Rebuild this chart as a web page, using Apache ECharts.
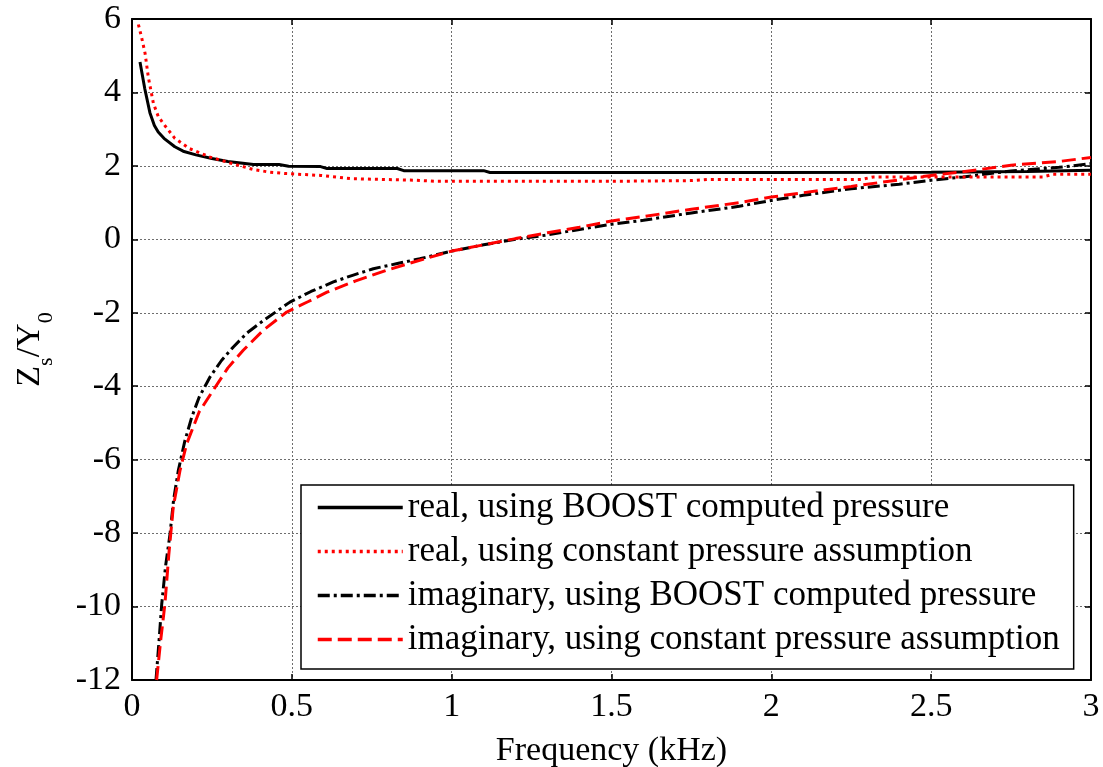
<!DOCTYPE html>
<html><head><meta charset="utf-8">
<script src="https://cdn.jsdelivr.net/npm/echarts@6/dist/echarts.min.js"></script>
<style>html,body{margin:0;padding:0;background:#fff}#c{width:1103px;height:767px}</style>
</head><body><div id="c"></div>
<script>
const xTicks = [0, 0.5, 1, 1.5, 2, 2.5, 3];
const yTicks = [-12, -10, -8, -6, -4, -2, 0, 2, 4, 6];
const seriesNames = [
  'real, using BOOST computed pressure',
  'real, using constant pressure assumption',
  'imaginary, using BOOST computed pressure',
  'imaginary, using constant pressure assumption'
];
const realBoost = [[0.025,4.83],[0.04,4.1],[0.056,3.45],[0.07,3.1],[0.082,2.92],[0.1,2.75],[0.134,2.52],[0.16,2.4],[0.2,2.3],[0.25,2.2],[0.3,2.12],[0.34,2.08],[0.38,2.04],[0.46,2.04],[0.49,1.99],[0.59,1.98],[0.61,1.93],[0.83,1.93],[0.85,1.87],[1.1,1.87],[1.12,1.82],[2.0,1.82],[2.5,1.83],[2.8,1.85],[3.0,1.88]];
const realConst = [[0.02,5.85],[0.03,5.5],[0.041,5.06],[0.051,4.42],[0.067,3.7],[0.082,3.35],[0.098,3.15],[0.134,2.75],[0.18,2.47],[0.244,2.24],[0.307,2.08],[0.38,1.9],[0.43,1.83],[0.484,1.79],[0.59,1.74],[0.69,1.65],[0.89,1.61],[0.95,1.58],[1.5,1.58],[1.75,1.6],[1.8,1.63],[2.28,1.63],[2.32,1.7],[2.85,1.7],[2.88,1.77],[3.0,1.77]];
const imagBoost = [[0.075,-12],[0.084,-11],[0.093,-9.93],[0.105,-8.9],[0.119,-8.02],[0.13,-7.1],[0.145,-6.29],[0.165,-5.5],[0.187,-4.84],[0.21,-4.3],[0.244,-3.75],[0.28,-3.3],[0.317,-2.93],[0.36,-2.55],[0.411,-2.21],[0.494,-1.71],[0.56,-1.42],[0.63,-1.16],[0.69,-0.98],[0.755,-0.8],[0.83,-0.66],[0.9,-0.53],[1.0,-0.32],[1.1,-0.15],[1.2,0.0],[1.3,0.12],[1.4,0.27],[1.5,0.41],[1.6,0.52],[1.75,0.72],[1.9,0.9],[2.0,1.06],[2.1,1.2],[2.25,1.38],[2.4,1.5],[2.5,1.61],[2.6,1.7],[2.75,1.86],[2.9,1.96],[3.0,2.06]];
const imagConst = [[0.077,-12],[0.09,-10.9],[0.103,-9.93],[0.115,-8.6],[0.129,-7.29],[0.15,-6.3],[0.171,-5.57],[0.21,-4.7],[0.254,-4.11],[0.3,-3.5],[0.348,-3.02],[0.41,-2.48],[0.484,-1.98],[0.55,-1.7],[0.61,-1.44],[0.7,-1.13],[0.797,-0.84],[0.9,-0.57],[1.0,-0.32],[1.1,-0.15],[1.2,0.02],[1.3,0.18],[1.4,0.33],[1.5,0.5],[1.6,0.62],[1.75,0.82],[1.9,1.0],[2.0,1.15],[2.1,1.27],[2.25,1.44],[2.4,1.62],[2.5,1.74],[2.6,1.84],[2.75,2.02],[2.9,2.12],[3.0,2.23]];

const FONT = '"Liberation Serif", "Times New Roman", serif';
const TICK_FS = 34;
const chart = echarts.init(document.getElementById('c'), null, {renderer: 'canvas'});
function axisCommon() {
  return {
    axisLine: {show: true, onZero: false, lineStyle: {color: '#000', width: 2}},
    axisTick: {show: true, inside: true, length: 6, lineStyle: {color: '#000', width: 1.5}}
  };
}
const gridLine = {show: true, lineStyle: {color: '#6e6e6e', type: [2, 2], width: 1}};
const option = {
  animation: false,
  backgroundColor: '#fff',
  grid: {left: 132, right: 12, top: 19, bottom: 87, containLabel: false, outerBoundsMode: 'none'},
  xAxis: [
    Object.assign({
      type: 'value', min: 0, max: 3, interval: 0.5, position: 'bottom',
      name: 'Frequency (kHz)', nameLocation: 'middle', nameGap: 54,
      nameTextStyle: {color: '#000', fontFamily: FONT, fontSize: TICK_FS},
      splitLine: gridLine,
      axisLabel: {show: true, color: '#000', fontFamily: FONT, fontSize: TICK_FS, margin: 10, formatter: v => String(v)}
    }, axisCommon()),
    Object.assign({type: 'value', min: 0, max: 3, interval: 0.5, position: 'top', splitLine: {show: false}, axisLabel: {show: false}}, axisCommon())
  ],
  yAxis: [
    Object.assign({
      type: 'value', min: -12, max: 6, interval: 2, position: 'left',
      name: '{a|Z}{s|s}{a|/Y}{s|0}', nameLocation: 'middle', nameGap: 84, nameRotate: 90,
      nameTextStyle: {
        color: '#000', fontFamily: FONT, fontSize: TICK_FS,
        rich: {
          a: {fontFamily: FONT, fontSize: TICK_FS, color: '#000', lineHeight: 36},
          s: {fontFamily: FONT, fontSize: 22, color: '#000', verticalAlign: 'bottom', lineHeight: 22, padding: [0, 0, -9, 0]}
        }
      },
      splitLine: gridLine,
      axisLabel: {show: true, color: '#000', fontFamily: FONT, fontSize: TICK_FS, margin: 11}
    }, axisCommon()),
    Object.assign({type: 'value', min: -12, max: 6, interval: 2, position: 'right', splitLine: {show: false}, axisLabel: {show: false}}, axisCommon())
  ],
  legend: {
    show: true, orient: 'vertical', left: 301, top: 485,
    backgroundColor: '#fff', borderColor: '#000', borderWidth: 1.5, borderRadius: 0,
    padding: [5, 14, 12, 15], itemGap: 9, itemWidth: 85, itemHeight: 14,
    itemStyle: {opacity: 0},
    lineStyle: {width: 3.5, inherit: true},
    textStyle: {color: '#000', fontFamily: FONT, fontSize: 35},
    data: seriesNames
  },
  series: [
    {name: seriesNames[0], type: 'line', data: realBoost, showSymbol: false, symbol: 'none', lineStyle: {color: '#000', width: 3, type: 'solid'}, itemStyle: {color: '#000'}, z: 3},
    {name: seriesNames[1], type: 'line', data: realConst, showSymbol: false, symbol: 'none', lineStyle: {color: '#f00', width: 3, type: [3, 4]}, itemStyle: {color: '#f00'}, z: 4},
    {name: seriesNames[2], type: 'line', data: imagBoost, showSymbol: false, symbol: 'none', lineStyle: {color: '#000', width: 3, type: [12, 4, 3, 4]}, itemStyle: {color: '#000'}, z: 3},
    {name: seriesNames[3], type: 'line', data: imagConst, showSymbol: false, symbol: 'none', lineStyle: {color: '#f00', width: 3, type: [14, 6]}, itemStyle: {color: '#f00'}, z: 4}
  ]
};
chart.setOption(option);
</script></body></html>
